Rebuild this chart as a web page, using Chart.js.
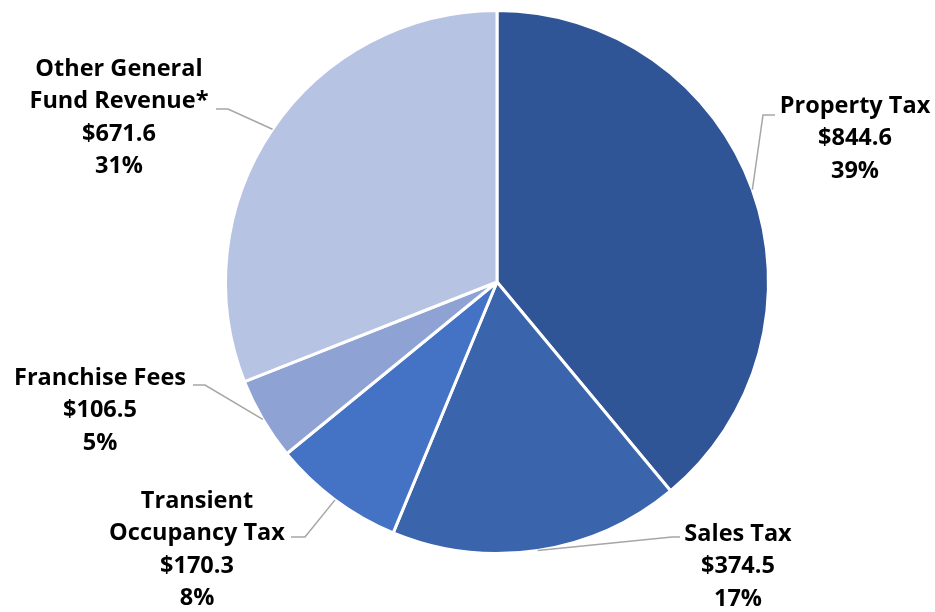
<!DOCTYPE html>
<html lang="en">
<head>
<meta charset="UTF-8">
<title>General Fund Revenue</title>
<script src="https://cdn.jsdelivr.net/npm/chart.js"></script>
<style>
    html, body { margin: 0; padding: 0; background: #fff; }
    .wrap { width: 935px; height: 612px; position: relative; }
</style>
</head>
<body>
<div class="wrap"><canvas id="pie"></canvas></div>
<script>
    // data ($ millions)
    const categories = ["Property Tax", "Sales Tax", "Transient Occupancy Tax", "Franchise Fees", "Other General Fund Revenue*"];
    const amounts = [844.6, 374.5, 170.3, 106.5, 671.6];
    const percents = ["39%", "17%", "8%", "5%", "31%"];
    // how each category label is broken into lines
    const labelLines = [
        ["Property Tax"],
        ["Sales Tax"],
        ["Transient", "Occupancy Tax"],
        ["Franchise Fees"],
        ["Other General", "Fund Revenue*"]
    ];
    const colors = ["#2F5597", "#3A64AC", "#4472C4", "#8FA2D4", "#B7C3E3"];

    // label layout: text centre x, first line y, elbow of leader line, end of leader line
    const labelPos = [
        { x: 855, y: 106, elbow: [763, 115], end: [775, 115] },
        { x: 738, y: 534, elbow: [672, 537], end: [680, 537] },
        { x: 197, y: 501, elbow: [305, 537], end: [291, 537] },
        { x: 100, y: 378, elbow: [205, 385], end: [193, 385] },
        { x: 119, y: 69,  elbow: [228, 109], end: [216, 109] }
    ];

    const leaderLabels = {
        id: "leaderLabels",
        afterDatasetsDraw(chart) {
            const ctx = chart.ctx;
            const arcs = chart.getDatasetMeta(0).data;
            ctx.save();
            arcs.forEach((arc, i) => {
                const p = labelPos[i];
                const mid = (arc.startAngle + arc.endAngle) / 2;
                const sx = arc.x + Math.cos(mid) * arc.outerRadius;
                const sy = arc.y + Math.sin(mid) * arc.outerRadius;
                ctx.strokeStyle = "#A6A6A6";
                ctx.lineWidth = 1.5;
                ctx.beginPath();
                ctx.moveTo(sx, sy);
                ctx.lineTo(p.elbow[0], p.elbow[1]);
                ctx.lineTo(p.end[0], p.end[1]);
                ctx.stroke();

                const lines = labelLines[i].concat(["$" + amounts[i].toFixed(1), percents[i]]);
                ctx.fillStyle = "#000";
                ctx.font = "bold 23.5px 'Open Sans', sans-serif";
                ctx.textAlign = "center";
                ctx.textBaseline = "middle";
                lines.forEach((t, k) => ctx.fillText(t, p.x, p.y + k * 32.5));
            });
            ctx.restore();
        }
    };

    new Chart(document.getElementById("pie"), {
        type: "pie",
        data: {
            labels: categories,
            datasets: [{
                data: amounts,
                backgroundColor: colors,
                borderColor: "#fff",
                borderWidth: 3
            }]
        },
        options: {
            responsive: true,
            maintainAspectRatio: false,
            animation: false,
            layout: { padding: { left: 224, right: 165, top: 9, bottom: 57 } },
            plugins: {
                legend: { display: false },
                tooltip: { enabled: false }
            }
        },
        plugins: [leaderLabels]
    });
</script>
</body>
</html>
